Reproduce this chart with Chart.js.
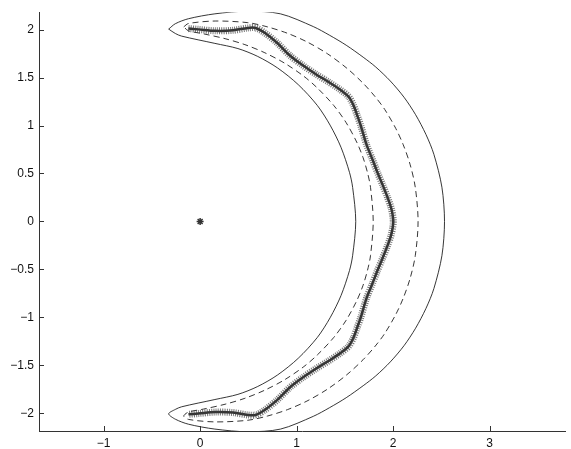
<!DOCTYPE html>
<html>
<head>
<meta charset="utf-8">
<script src="https://cdn.jsdelivr.net/npm/chart.js@4.4.1/dist/chart.umd.min.js"></script>
<style>
  body { margin: 0; background: #fff; }
  canvas { display: block; }
</style>
</head>
<body>
<canvas id="crescentChart" width="571" height="449"></canvas>
<script>
// axis ticks
const xTicks = [-1, 0, 1, 2, 3];
const yTicks = [-2, -1.5, -1, -0.5, 0, 0.5, 1, 1.5, 2];

// solid boundary, outer edge (top tip -> bottom tip)
const outerSolidX = [-0.326, -0.257, -0.121, 0.153, 0.494, 0.833, 1.173, 1.343, 1.514, 1.690, 1.820, 1.971, 2.113, 2.233, 2.340, 2.423, 2.506, 2.533,
                     2.506, 2.423, 2.340, 2.233, 2.113, 1.971, 1.820, 1.690, 1.514, 1.343, 1.173, 0.833, 0.494, 0.153, -0.121, -0.257, -0.326];
const outerSolidY = [2.005, 2.061, 2.113, 2.164, 2.192, 2.164, 2.031, 1.940, 1.837, 1.712, 1.610, 1.464, 1.295, 1.113, 0.908, 0.699, 0.357, 0,
                     -0.357, -0.699, -0.908, -1.113, -1.295, -1.464, -1.610, -1.712, -1.837, -1.940, -2.031, -2.164, -2.192, -2.164, -2.113, -2.061, -2.005];
// solid boundary, inner edge (top -> bottom, without the tips)
const innerSolidX = [-0.257, -0.193, 0.153, 0.392, 0.597, 0.804, 1.017, 1.214, 1.347, 1.460, 1.548, 1.581, 1.613,
                     1.581, 1.548, 1.460, 1.347, 1.214, 1.017, 0.804, 0.597, 0.392, 0.153, -0.193, -0.257];
const innerSolidY = [1.959, 1.932, 1.856, 1.802, 1.720, 1.599, 1.426, 1.210, 1.004, 0.773, 0.512, 0.353, 0,
                     -0.353, -0.512, -0.773, -1.004, -1.210, -1.426, -1.599, -1.720, -1.802, -1.856, -1.932, -1.959];

// dashed boundary, outer edge (top tip -> bottom tip)
const outerDashX = [-0.170, -0.121, 0.156, 0.494, 0.698, 0.906, 1.107, 1.318, 1.521, 1.688, 1.815, 1.913, 2.027, 2.105, 2.176, 2.230, 2.259,
                    2.230, 2.176, 2.105, 2.027, 1.913, 1.815, 1.688, 1.521, 1.318, 1.107, 0.906, 0.698, 0.494, 0.156, -0.121, -0.170];
const outerDashY = [2.028, 2.063, 2.089, 2.072, 2.028, 1.961, 1.872, 1.749, 1.597, 1.442, 1.299, 1.168, 0.971, 0.800, 0.595, 0.357, 0,
                    -0.357, -0.595, -0.800, -0.971, -1.168, -1.299, -1.442, -1.597, -1.749, -1.872, -1.961, -2.028, -2.072, -2.089, -2.063, -2.028];
// dashed boundary, inner edge (without the tips)
const innerDashX = [-0.121, 0.033, 0.259, 0.464, 0.671, 0.877, 1.075, 1.214, 1.385, 1.514, 1.623, 1.689, 1.735, 1.766, 1.794,
                    1.766, 1.735, 1.689, 1.623, 1.514, 1.385, 1.214, 1.075, 0.877, 0.671, 0.464, 0.259, 0.033, -0.121];
const innerDashY = [1.987, 1.956, 1.905, 1.843, 1.758, 1.649, 1.513, 1.392, 1.209, 1.029, 0.827, 0.665, 0.508, 0.356, 0,
                    -0.356, -0.508, -0.665, -0.827, -1.029, -1.209, -1.392, -1.513, -1.649, -1.758, -1.843, -1.905, -1.956, -1.987];

// '+' marked path
const pathX = [-0.121, -0.018, 0.156, 0.341, 0.494, 0.576, 0.669, 0.800, 0.930, 1.060, 1.200, 1.330, 1.450, 1.540, 1.590, 1.630, 1.665,
               1.725, 1.787, 1.838, 1.889, 1.941, 1.982, 2.002,
               1.982, 1.941, 1.889, 1.838, 1.787, 1.725, 1.665, 1.630, 1.590, 1.540, 1.450, 1.330, 1.200, 1.060, 0.930, 0.800,
               0.669, 0.576, 0.494, 0.341, 0.156, -0.018, -0.121];
const pathY = [2.010, 2.002, 1.987, 1.992, 2.017, 2.017, 1.966, 1.860, 1.730, 1.630, 1.535, 1.455, 1.375, 1.300, 1.210, 1.100, 1.000,
               0.800, 0.644, 0.511, 0.388, 0.255, 0.132, 0,
               -0.132, -0.255, -0.388, -0.511, -0.644, -0.800, -1.000, -1.100, -1.210, -1.300, -1.375, -1.455, -1.535, -1.630, -1.730, -1.860,
               -1.966, -2.017, -2.017, -1.992, -1.987, -2.002, -2.010];

// the single '*' point
const centerX = [0];
const centerY = [0];

function toPoints(xs, ys) {
    return xs.map((x, i) => ({ x: x, y: ys[i] }));
}
function loop(ox, oy, ix, iy) {
    const pts = toPoints(ox, oy).concat(toPoints(ix, iy).reverse());
    pts.push({ x: ox[0], y: oy[0] });
    return pts;
}

const lineColor = 'rgba(20,20,20,0.85)';
const fmt = v => (v < 0 ? '\u2212' + Math.abs(v) : String(v));

// inward tick marks like the original axes
const inwardTicks = {
    id: 'inwardTicks',
    afterDraw(chart) {
        const { ctx, chartArea, scales } = chart;
        ctx.save();
        ctx.strokeStyle = '#333';
        ctx.lineWidth = 1;
        ctx.beginPath();
        xTicks.forEach(v => {
            const px = Math.round(scales.x.getPixelForValue(v)) + 0.5;
            ctx.moveTo(px, chartArea.bottom);
            ctx.lineTo(px, chartArea.bottom - 5);
        });
        yTicks.forEach(v => {
            const py = Math.round(scales.y.getPixelForValue(v)) + 0.5;
            ctx.moveTo(chartArea.left, py);
            ctx.lineTo(chartArea.left + 5, py);
        });
        ctx.stroke();
        ctx.restore();
    }
};

const config = {
    type: 'scatter',
    data: {
        datasets: [
            {   // '+' markers look: short cross bars along the path
                data: toPoints(pathX, pathY),
                showLine: true,
                borderColor: 'rgba(60,60,60,0.7)',
                borderWidth: 7,
                borderDash: [1, 1.2],
                borderCapStyle: 'butt',
                tension: 0.3,
                pointRadius: 0
            },
            {
                data: toPoints(pathX, pathY),
                showLine: true,
                borderColor: '#333',
                borderWidth: 2.5,
                tension: 0.3,
                pointRadius: 0
            },
            {
                data: loop(outerDashX, outerDashY, innerDashX, innerDashY),
                showLine: true,
                borderColor: lineColor,
                borderWidth: 1,
                borderDash: [6, 4],
                tension: 0.3,
                pointRadius: 0
            },
            {
                data: loop(outerSolidX, outerSolidY, innerSolidX, innerSolidY),
                showLine: true,
                borderColor: lineColor,
                borderWidth: 1,
                tension: 0.3,
                pointRadius: 0
            },
            {
                data: toPoints(centerX, centerY),
                pointStyle: 'star',
                pointRadius: 3.5,
                borderColor: '#333',
                borderWidth: 1.5,
                backgroundColor: '#333'
            }
        ]
    },
    options: {
        responsive: false,
        animation: false,
        layout: { padding: { top: 5, right: 0, left: 0, bottom: 0 } },
        scales: {
            x: {
                type: 'linear',
                min: -1.670,
                max: 3.787,
                afterBuildTicks: s => { s.ticks = xTicks.map(v => ({ value: v })); },
                afterFit: s => { s.height = 18; },
                grid: { display: false, drawTicks: false },
                border: { display: true, color: '#333', width: 1 },
                ticks: {
                    padding: 5,
                    color: '#111',
                    font: { family: 'Liberation Sans, Arial, sans-serif', size: 12 },
                    callback: fmt
                }
            },
            y: {
                type: 'linear',
                min: -2.184,
                max: 2.181,
                afterBuildTicks: s => { s.ticks = yTicks.map(v => ({ value: v })); },
                afterFit: s => { s.width = 39; },
                grid: { display: false, drawTicks: false },
                border: { display: true, color: '#333', width: 1 },
                ticks: {
                    padding: 5,
                    color: '#111',
                    font: { family: 'Liberation Sans, Arial, sans-serif', size: 12 },
                    callback: fmt
                }
            }
        },
        plugins: {
            legend: { display: false },
            tooltip: { enabled: false }
        }
    },
    plugins: [inwardTicks]
};

new Chart(document.getElementById('crescentChart'), config);
</script>
</body>
</html>
